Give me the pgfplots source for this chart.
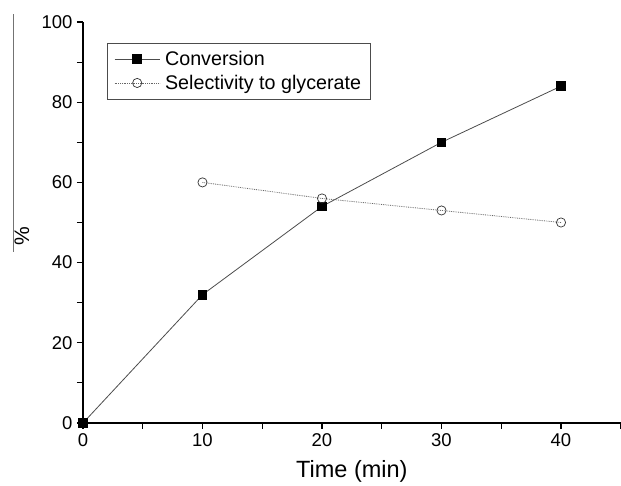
\documentclass[border=0pt]{standalone}
\usepackage{fontspec}
\setmainfont{Liberation Sans}
\usepackage{pgfplots}
\pgfplotsset{compat=1.18}
\begin{document}
\begin{tikzpicture}
\begin{axis}[
  scale only axis,
  width=537.75pt, height=401pt,
  xmin=0, xmax=45, ymin=0, ymax=100,
  axis x line*=bottom, axis y line*=left,
  axis line style={line width=1.1pt, -},
  xtick={0,10,20,30,40}, ytick={0,20,40,60,80,100},
  minor xtick={5,15,25,35,45}, minor ytick={10,30,50,70,90},
  tick align=outside,
  major tick length=6pt, minor tick length=6pt,
  tick style={line width=1.1pt, black},
  /pgf/number format/assume math mode=true,
  tick label style={font=\fontsize{18.5}{20}\selectfont},
  xticklabel style={yshift=-1pt},
  yticklabel style={xshift=-1pt},
  xlabel={Time (min)},
  xlabel style={font=\fontsize{23.5}{25}\selectfont, at={(axis description cs:0.5,0)}, anchor=center, yshift=-48pt},
  legend style={at={(axis description cs:0.0446,0.9476)}, anchor=north west, draw=black!70, line width=0.6pt,
    font=\fontsize{19.7}{21}\selectfont, inner xsep=7pt, inner ysep=6pt, row sep=4pt,
    /tikz/every odd column/.append style={column sep=3pt},
    legend cell align=left},
  legend image code/.code={\draw[mark repeat=2, mark phase=2] plot coordinates {(0pt,0pt) (22.5pt,0pt) (45pt,0pt)};},
  clip=false,
]
\addplot[black!70, line width=0.8pt, mark=square*, mark size=4.3pt, mark options={fill=black, draw=black, solid}]
  coordinates {(0,0) (10,32) (20,54) (30,70) (40,84)};
\addlegendentry{Conversion}
\addplot[black!60, line width=0.8pt, densely dotted, mark=o, mark size=4.6pt, mark options={fill=white, draw=black!80, solid, line width=0.7pt}]
  coordinates {(10,60) (20,56) (30,53) (40,50)};
\addlegendentry{Selectivity to glycerate}
\draw[black!55, line width=1pt] (axis description cs:0,0) ++(-69.5pt,171pt) -- ++(0pt,238pt);
\node[rotate=90, font=\fontsize{21}{22}\selectfont, inner sep=0pt] at ([xshift=-61pt, yshift=187pt]axis description cs:0,0) {\%};
\end{axis}
\pgfresetboundingbox
\path[use as bounding box] (-83pt,-63pt) rectangle (538pt,423pt);
\end{tikzpicture}
\end{document}
